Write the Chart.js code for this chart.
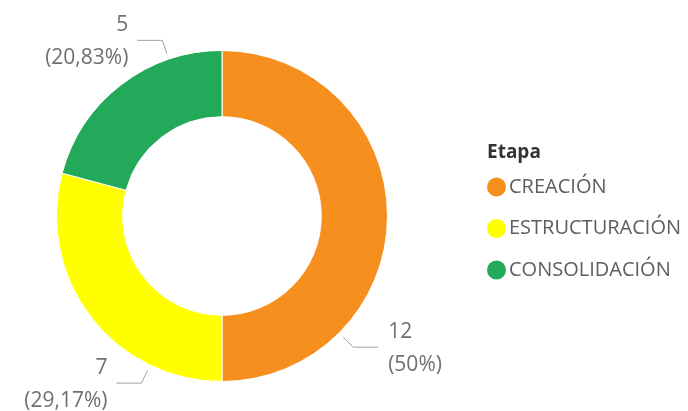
<!DOCTYPE html>
<html>
<head>
<meta charset="utf-8">
<script src="https://cdn.jsdelivr.net/npm/chart.js@4.4.1/dist/chart.umd.min.js"></script>
<style>
  html, body { margin: 0; padding: 0; background: #ffffff; }
  #wrap { width: 688px; height: 411px; position: relative; }
</style>
</head>
<body>
<div id="wrap"><canvas id="c" width="688" height="411"></canvas></div>
<script>
// ---- data ----
const legendTitle = "Etapa";
const categories = ["CREACIÓN", "ESTRUCTURACIÓN", "CONSOLIDACIÓN"];
const values = [12, 7, 5];
const colors = ["#F68F1E", "#FFFF00", "#22A95A"];

function fmtPct(p) {
  const r = Math.round(p * 100) / 100;
  return String(r).replace('.', ',');
}

const labelPlugin = {
  id: 'outLabels',
  afterDatasetsDraw(chart, args, opts) {
    const ctx = chart.ctx;
    const meta = chart.getDatasetMeta(0);
    const data = chart.data.datasets[0].data;
    const total = data.reduce((a, b) => a + b, 0);
    ctx.save();
    meta.data.forEach((arc, i) => {
      const p = arc.getProps(['x', 'y', 'startAngle', 'endAngle', 'outerRadius'], true);
      const a = p.startAngle + opts.anchor[i] * (p.endAngle - p.startAngle);
      const r0 = p.outerRadius + 6, r1 = p.outerRadius + 20;
      const x0 = p.x + Math.cos(a) * r0, y0 = p.y + Math.sin(a) * r0;
      const x1 = p.x + Math.cos(a) * r1, y1 = p.y + Math.sin(a) * r1;
      const right = Math.cos(a) >= 0;
      const x2 = x1 + (right ? 25 : -25);
      ctx.strokeStyle = '#a09fb0';
      ctx.lineWidth = 1;
      ctx.beginPath();
      ctx.moveTo(x0, y0); ctx.lineTo(x1, y1); ctx.lineTo(x2, y1);
      ctx.stroke();
      ctx.fillStyle = '#707070';
      ctx.font = '21px "Open Sans", sans-serif';
      ctx.textBaseline = 'middle';
      ctx.textAlign = right ? 'left' : 'right';
      const tx = x2 + (right ? 10 : -9);
      ctx.fillText(String(data[i]), tx, y1 - 15);
      ctx.fillText('(' + fmtPct(data[i] / total * 100) + '%)', tx, y1 + 18);
    });
    ctx.restore();
  }
};

const legendPlugin = {
  id: 'sideLegend',
  afterDraw(chart, args, opts) {
    const ctx = chart.ctx;
    const ds = chart.data.datasets[0];
    ctx.save();
    ctx.textBaseline = 'middle';
    ctx.textAlign = 'left';
    ctx.fillStyle = '#333333';
    ctx.font = 'bold 19px "Open Sans", sans-serif';
    ctx.fillText(opts.title, opts.x, opts.y);
    ctx.font = '20px "Open Sans", sans-serif';
    chart.data.labels.forEach((lab, i) => {
      const cy = opts.y + 34 + i * 41.5;
      ctx.fillStyle = ds.backgroundColor[i];
      ctx.beginPath();
      ctx.arc(opts.x + 9.5, cy, 9.5, 0, Math.PI * 2);
      ctx.fill();
      ctx.fillStyle = '#605e5c';
      ctx.fillText(lab, opts.x + 22, cy);
    });
    ctx.restore();
  }
};

new Chart(document.getElementById('c'), {
  type: 'doughnut',
  data: {
    labels: categories,
    datasets: [{
      data: values,
      backgroundColor: colors,
      borderColor: '#ffffff',
      borderWidth: 1,
      hoverOffset: 0
    }]
  },
  options: {
    responsive: false,
    animation: false,
    cutout: '60%',
    layout: { padding: { left: 56, top: 50, right: 300, bottom: 29 } },
    plugins: {
      legend: { display: false },
      tooltip: { enabled: false },
      outLabels: { anchor: [0.75, 0.245, 0.75] },
      sideLegend: { title: legendTitle, x: 487, y: 153 }
    }
  },
  plugins: [labelPlugin, legendPlugin]
});
</script>
</body>
</html>
